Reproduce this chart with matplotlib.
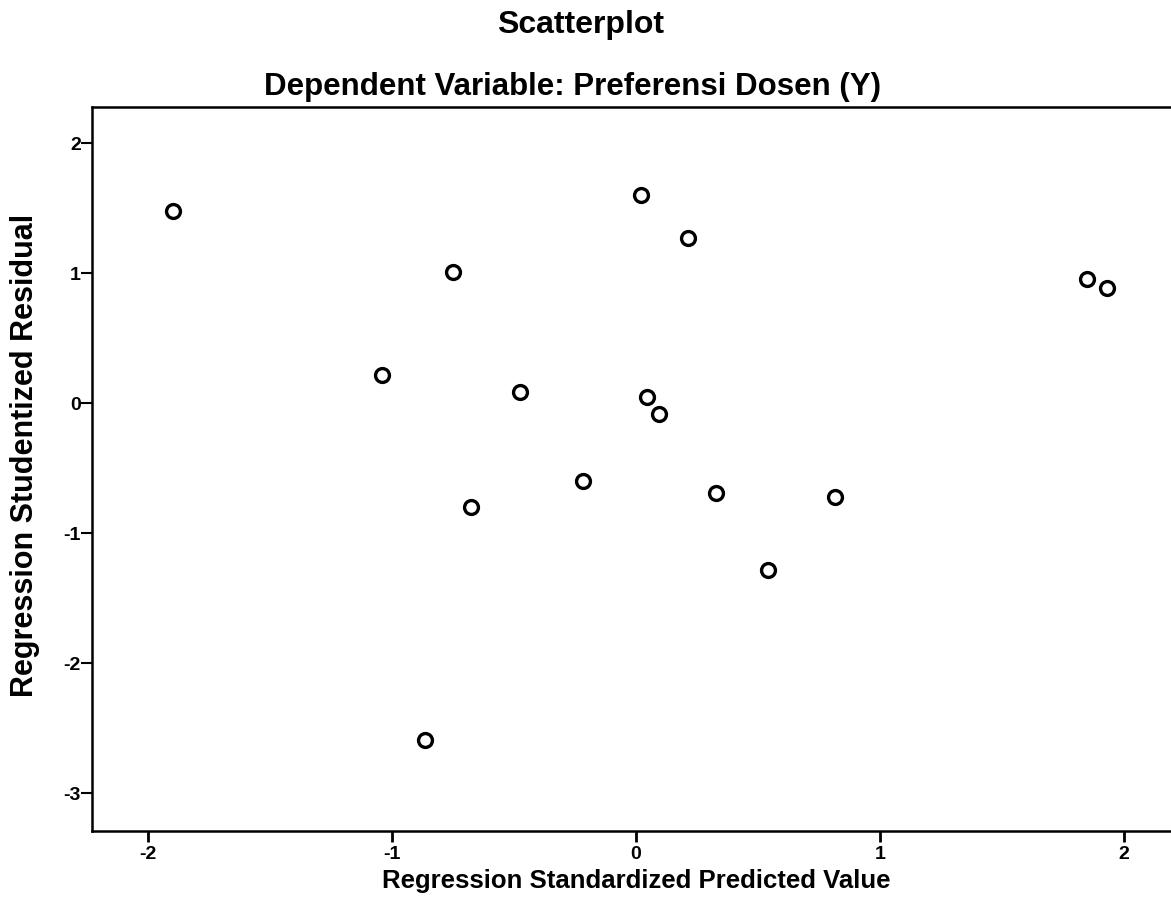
import numpy as np
from matplotlib import pyplot as plt

plt.rcParams["font.family"] = ["Liberation Sans", "DejaVu Sans"]
plt.rcParams["font.weight"] = "bold"

# regression standardized predicted value vs studentized residual
pred_value = [-1.90, -0.75, -1.04, -0.475, 0.02, 0.213, 0.045, 0.094,
              -0.217, -0.676, 0.328, 0.816, 0.54, 1.85, 1.93, -0.865]
stud_resid = [1.48, 1.01, 0.22, 0.09, 1.60, 1.27, 0.05, -0.08,
              -0.60, -0.80, -0.69, -0.72, -1.28, 0.96, 0.89, -2.59]

x_ticks = [-2, -1, 0, 1, 2]
y_ticks = [-3, -2, -1, 0, 1, 2]

W, H = 1171, 919
fig = plt.figure(figsize=(W / 100, H / 100), dpi=100)
ax = fig.add_axes([92 / W, 1 - 831 / H, (1185 - 92) / W, (831 - 107) / H])

ax.scatter(pred_value, stud_resid, s=100, facecolors="white", edgecolors="black", linewidths=2.4, zorder=3)

ax.set_xlim(-2.23, 2.25)
ax.set_ylim(-3.29, 2.28)
ax.set_xticks(x_ticks)
ax.set_yticks(y_ticks)
ax.set_xticklabels([str(t) for t in x_ticks], fontsize=14, fontweight="bold")
ax.set_yticklabels([str(t) for t in y_ticks], fontsize=14, fontweight="bold")
ax.tick_params(axis="x", direction="out", length=8, width=2, pad=3)
ax.tick_params(axis="y", direction="out", length=8, width=1.5, pad=0)
for s in ax.spines.values():
    s.set_linewidth(1.8)

fig.text(636 / W, 1 - 881 / H, "Regression Standardized Predicted Value",
         ha="center", va="center", fontsize=18.5, fontweight="bold")
fig.text(25 / W, 1 - 455 / H, "Regression Studentized Residual",
         ha="center", va="center", rotation=90, fontsize=22, fontweight="bold")
fig.text(572 / W, 1 - 87 / H, "Dependent Variable: Preferensi Dosen (Y)",
         ha="center", va="center", fontsize=22.5, fontweight="bold")
fig.text(581 / W, 1 - 25 / H, "Scatterplot",
         ha="center", va="center", fontsize=23, fontweight="bold")

plt.savefig("out.png")
